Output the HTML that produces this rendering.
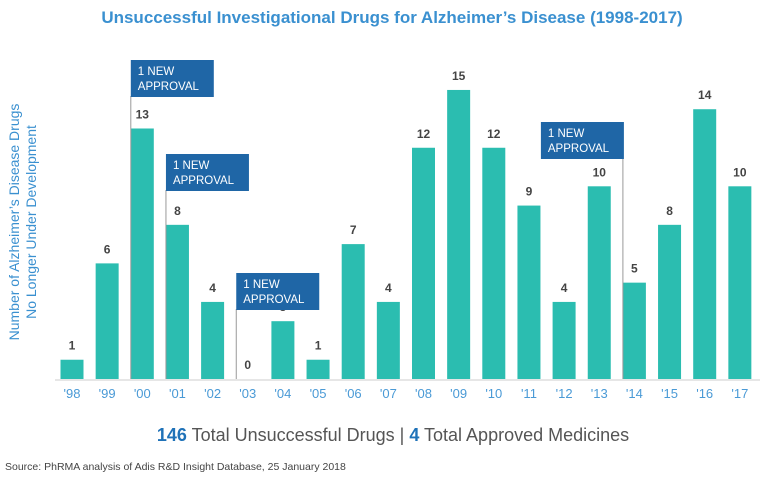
<!DOCTYPE html>
<html><head><meta charset="utf-8"><style>
body{margin:0;background:#fff;width:771px;height:486px;overflow:hidden;font-family:"Liberation Sans",sans-serif}
svg{display:block}
</style></head><body>
<svg width="771" height="486">
<text x="392" y="23" text-anchor="middle" font-size="17" font-weight="bold" fill="#3a90d0">Unsuccessful Investigational Drugs for Alzheimer’s Disease (1998-2017)</text>
<g transform="translate(19,222) rotate(-90)">
<text x="0" y="0" text-anchor="middle" font-size="14" fill="#3a90d0">Number of Alzheimer’s Disease Drugs</text>
<text x="0" y="17" text-anchor="middle" font-size="14" fill="#3a90d0">No Longer Under Development</text>
</g>
<line x1="55" y1="380" x2="760" y2="380" stroke="#ccc" stroke-width="1"/>
<g id="bars"></g>
<g id="notes"></g>
<text x="393" y="441" text-anchor="middle" font-size="18" fill="#555"><tspan font-weight="bold" fill="#1f72b8">146</tspan> Total Unsuccessful Drugs  |  <tspan font-weight="bold" fill="#1f72b8">4</tspan> Total Approved Medicines</text>
<text x="5" y="470" font-size="10.5" fill="#444">Source: PhRMA analysis of Adis R&amp;D Insight Database, 25 January 2018</text>
</svg>
<script>
const years=["'98","'99","'00","'01","'02","'03","'04","'05","'06","'07","'08","'09","'10","'11","'12","'13","'14","'15","'16","'17"];
const values=[1,6,13,8,4,0,3,1,7,4,12,15,12,9,4,10,5,8,14,10];
const approvalYears=["'00","'01","'03","'14"];
const NS="http://www.w3.org/2000/svg";
const x0=72,step=35.15,bw=23,base=379,ppu=19.27;
const xc=i=>x0+i*step;
const y=v=>base-v*ppu;
function mk(t,a,p){const e=document.createElementNS(NS,t);for(const k in a)e.setAttribute(k,a[k]);p.appendChild(e);return e;}
const g=document.getElementById('bars');
years.forEach((yr,i)=>{
 const v=values[i];
 const r=mk('rect',{x:xc(i)-bw/2,y:y(v),width:bw,height:v*ppu,fill:'#2bbdb0'},g);
 
 
 const t=mk('text',{x:xc(i),y:y(v)-10,'text-anchor':'middle','font-size':12,'font-weight':'bold',fill:'#444'},g);
 t.textContent=v;
 
 
 const l=mk('text',{x:xc(i),y:398,'text-anchor':'middle','font-size':13,fill:'#4a9ad6'},g);
 l.textContent=yr;
 
 
});
const n=document.getElementById('notes');
const boxTops=[60,154,273,122];
approvalYears.forEach((yr,k)=>{
 const i=years.indexOf(yr);
 const right=(yr==="'14");
 const lx=xc(i)-bw/2;
 const bx=right? lx-82 : lx;
 const top=boxTops[k];
 const ln=mk('line',{x1:lx,y1:top+36,x2:lx,y2:base,stroke:'#999','stroke-width':1},n);
 
 
 const b=mk('rect',{x:bx,y:top,width:83,height:37,fill:'#1f66a6'},n);
 
 
 const t1=mk('text',{x:bx+7,y:top+15,'font-size':11.5,fill:'#fff'},n);t1.textContent='1 NEW';
 
 
 const t2=mk('text',{x:bx+7,y:top+30,'font-size':11.5,fill:'#fff'},n);t2.textContent='APPROVAL';
 
 
});
</script>
</body></html>
